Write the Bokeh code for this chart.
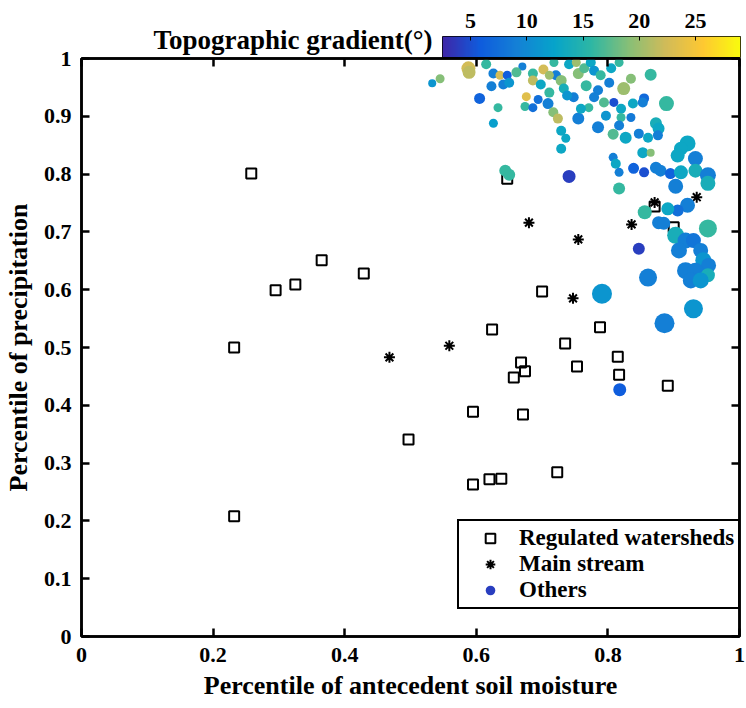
import numpy as np
from bokeh.plotting import figure
from bokeh.models import (Range1d, LinearAxis, FixedTicker, Legend, LegendItem,
                          LinearColorMapper, ColumnDataSource)
from bokeh.layouts import column
from bokeh.embed import file_html
from bokeh.resources import INLINE

FONT = "Liberation Serif"

# ---------------- data ----------------
x_ticks = [0, 0.2, 0.4, 0.6, 0.8, 1]
x_tick_labels = ["0", "0.2", "0.4", "0.6", "0.8", "1"]
y_ticks = [0, 0.1, 0.2, 0.3, 0.4, 0.5, 0.6, 0.7, 0.8, 0.9, 1]
y_tick_labels = ["0", "0.1", "0.2", "0.3", "0.4", "0.5", "0.6", "0.7", "0.8", "0.9", "1"]
cb_ticks = [5, 10, 15, 20, 25]
cb_title = "Topographic gradient(°)"
gradient_low, gradient_high = 2.5, 29.0

reg_x = [0.258, 0.232, 0.232, 0.295, 0.325, 0.365, 0.429, 0.497, 0.595, 0.595,
         0.620, 0.638, 0.624, 0.668, 0.674, 0.657, 0.671, 0.700, 0.723, 0.735,
         0.753, 0.788, 0.815, 0.817, 0.891, 0.647, 0.871, 0.900]
reg_y = [0.801, 0.500, 0.208, 0.599, 0.609, 0.651, 0.628, 0.341, 0.389, 0.263,
         0.272, 0.273, 0.531, 0.474, 0.459, 0.448, 0.384, 0.597, 0.284, 0.507,
         0.467, 0.535, 0.484, 0.453, 0.434, 0.792, 0.744, 0.708]

main_x = [0.468, 0.559, 0.747, 0.755, 0.680, 0.836, 0.871, 0.935]
main_y = [0.483, 0.503, 0.585, 0.687, 0.716, 0.713, 0.751, 0.760]

oth_x = [0.533, 0.545, 0.588, 0.589, 0.615, 0.626, 0.636, 0.647, 0.641, 0.650,
         0.623, 0.605, 0.633, 0.626, 0.670, 0.686, 0.702, 0.686, 0.676, 0.674,
         0.686, 0.694, 0.709, 0.711, 0.718, 0.721, 0.729, 0.741, 0.755, 0.748,
         0.733, 0.717, 0.724, 0.729, 0.755, 0.736, 0.729, 0.741, 0.644, 0.650,
         0.764, 0.774, 0.779, 0.805, 0.817, 0.824, 0.835, 0.802, 0.785, 0.809,
         0.794, 0.779, 0.771, 0.820, 0.838, 0.855, 0.853, 0.865, 0.889, 0.835,
         0.820, 0.817, 0.785, 0.808, 0.827, 0.847, 0.861, 0.873, 0.877, 0.876,
         0.921, 0.911, 0.906, 0.933, 0.853, 0.865, 0.808, 0.812, 0.817, 0.839,
         0.855, 0.873, 0.880, 0.895, 0.911, 0.933, 0.952, 0.952, 0.817, 0.903,
         0.921, 0.906, 0.891, 0.856, 0.877, 0.885, 0.952, 0.903, 0.918, 0.930,
         0.908, 0.941, 0.847, 0.945, 0.953, 0.918, 0.933, 0.952, 0.926, 0.941,
         0.861, 0.791, 0.886, 0.930, 0.818, 0.661, 0.698, 0.767, 0.752, 0.789,
         0.711, 0.738, 0.759, 0.797]
oth_y = [0.957, 0.965, 0.983, 0.976, 0.990, 0.974, 0.971, 0.971, 0.955, 0.958,
         0.952, 0.931, 0.915, 0.888, 0.986, 0.974, 0.981, 0.962, 0.934, 0.917,
         0.915, 0.929, 0.922, 0.941, 0.993, 0.971, 0.962, 0.990, 0.974, 0.933,
         0.948, 0.907, 0.896, 0.875, 0.896, 0.862, 0.844, 0.796, 0.806, 0.799,
         0.983, 0.993, 0.979, 0.983, 0.993, 0.948, 0.965, 0.958, 0.945, 0.924,
         0.924, 0.933, 0.915, 0.913, 0.922, 0.931, 0.924, 0.972, 0.922, 0.898,
         0.898, 0.884, 0.881, 0.869, 0.863, 0.870, 0.863, 0.888, 0.879, 0.867,
         0.853, 0.844, 0.832, 0.827, 0.837, 0.837, 0.829, 0.818, 0.803, 0.810,
         0.803, 0.811, 0.806, 0.801, 0.803, 0.806, 0.798, 0.784, 0.775, 0.779,
         0.746, 0.737, 0.740, 0.734, 0.716, 0.715, 0.706, 0.694, 0.685, 0.685,
         0.668, 0.668, 0.671, 0.651, 0.642, 0.633, 0.633, 0.625, 0.616, 0.616,
         0.621, 0.593, 0.542, 0.567, 0.427, 0.976, 0.955, 0.953, 0.993, 0.971,
         0.971, 0.936, 0.913, 0.901]
# topographic gradient (degrees)
oth_g = [11, 19, 22.5, 21.5, 16, 9, 22.5, 6, 9, 11,
         9, 6.5, 16, 12, 9, 16, 22.5, 21.5, 23.5, 16,
         7.5, 7.5, 9, 16, 16, 9, 19, 13, 19, 9,
         14, 19, 21.5, 13, 9, 13, 13, 4, 16, 16,
         17, 13, 11, 13, 16, 20, 19, 9, 9, 5,
         17, 9, 16, 13, 13, 7, 9, 16, 16, 8.5,
         16, 9, 9, 17, 13, 9, 13, 14, 13, 9,
         13, 13, 13, 9, 13, 19, 9, 13, 9, 6.5,
         5, 9, 9, 6.5, 13, 14, 9, 14, 16, 9,
         9, 7.5, 13, 16, 9, 9, 16, 14, 9, 8,
         9, 9, 4, 11, 9, 9, 9, 14, 9, 11,
         9, 11, 9, 11, 6, 17, 13, 16, 20, 16,
         20, 11, 13, 11]
# relative magnitude (marker scale)
oth_m = [4, 4.5, 7, 6.5, 5, 5, 4.5, 4.5, 5, 5,
         5, 5.5, 4.5, 4.5, 4, 5, 5, 5, 4.5, 4.5,
         4.5, 4.5, 5.5, 5, 4.5, 5, 5.5, 5, 5.5, 5,
         5, 5, 5, 5, 6, 4.5, 5, 6.5, 6, 6,
         5, 5, 5, 5, 4.5, 6.5, 5, 5, 5, 4.5,
         5, 5, 4.5, 5, 5, 5, 5, 6, 7.5, 4.5,
         4.5, 5, 6, 5.5, 6, 5, 5, 6, 6, 5,
         8, 7, 7, 7.5, 5.5, 4, 4.5, 5, 4.5, 5.5,
         5, 6, 6, 5.5, 7, 7, 8, 7.5, 6, 7.5,
         7.5, 6, 6.5, 7, 6.5, 6.5, 9, 8.5, 8, 7.5,
         8, 7.5, 6, 8, 7.5, 8.5, 8, 7, 8, 8,
         9, 10, 10, 9.5, 6.5, 5, 5, 5.5, 4.5, 5,
         4.5, 5, 5, 5]

# ---------------- colormap (parula-like) ----------------
stops = ["#3E26A8", "#0F5CDD", "#1481D6", "#06A4CA", "#2EB7A4",
         "#87BF77", "#D1BB59", "#FEC832", "#F9FB0E"]


def _interp_palette(hexes, n=256):
    rgb = np.array([[int(h[i:i + 2], 16) for i in (1, 3, 5)] for h in hexes], float)
    pos = np.linspace(0, 1, len(hexes))
    t = np.linspace(0, 1, n)
    out = np.stack([np.interp(t, pos, rgb[:, k]) for k in range(3)], axis=1)
    return ["#%02x%02x%02x" % tuple(int(round(v)) for v in row) for row in out]


palette = _interp_palette(stops)
mapper = LinearColorMapper(palette=palette, low=gradient_low, high=gradient_high)

# ---------------- main figure ----------------
p = figure(width=746, height=662, x_range=Range1d(0, 1), y_range=Range1d(0, 1),
           output_backend="svg", toolbar_location=None,
           min_border_left=79, min_border_right=7, min_border_top=12, min_border_bottom=72)
p.frame_align = False
p.margin = (-12, 0, 0, 0)
p.border_fill_color = None
p.grid.visible = False
p.outline_line_color = "black"
p.outline_line_width = 2.5
p.background_fill_color = "white"


def style_axis(ax, ticks, labels=None):
    ax.ticker = FixedTicker(ticks=ticks)
    ax.major_tick_in = 8
    ax.major_tick_out = 0
    ax.minor_tick_line_color = None
    ax.axis_line_width = 2.5
    ax.major_tick_line_width = 2.5
    ax.major_tick_line_color = "black"
    ax.axis_line_color = "black"
    if labels is not None:
        ax.major_label_overrides = {t: l for t, l in zip(ticks, labels)}
        ax.major_label_text_font = FONT
        ax.major_label_text_font_style = "bold"
        ax.major_label_text_font_size = "22px"
        ax.major_label_text_color = "black"
        ax.axis_label_text_font = FONT
        ax.axis_label_text_font_style = "bold"
        ax.axis_label_text_font_size = "26px"
        ax.axis_label_text_color = "black"
    else:
        ax.major_label_text_color = None
        ax.major_label_text_font_size = "1px"
        ax.major_label_standoff = 0


style_axis(p.xaxis[0], x_ticks, x_tick_labels)
style_axis(p.yaxis[0], y_ticks, y_tick_labels)
p.xaxis[0].axis_label = "Percentile of antecedent soil moisture"
p.yaxis[0].axis_label = "Percentile of precipitation"
p.xaxis[0].major_label_standoff = 11
p.yaxis[0].major_label_standoff = 10
p.xaxis[0].axis_label_standoff = 6
p.yaxis[0].axis_label_standoff = 8

top_ax = LinearAxis()
style_axis(top_ax, x_ticks)
p.add_layout(top_ax, "above")
right_ax = LinearAxis()
style_axis(right_ax, y_ticks)
p.add_layout(right_ax, "right")

r_sq = p.scatter(reg_x, reg_y, marker="square", size=10, fill_color=None,
                 line_color="black", line_width=2)
r_st = p.scatter(main_x, main_y, marker="asterisk", size=11, line_color="black",
                 line_width=2)
src = ColumnDataSource(dict(x=oth_x, y=oth_y, g=oth_g, s=[2 * m for m in oth_m]))
r_ci = p.scatter("x", "y", source=src, marker="circle", size="s",
                 fill_color={"field": "g", "transform": mapper}, line_color=None)

legend = Legend(items=[LegendItem(label="Regulated watersheds", renderers=[r_sq]),
                       LegendItem(label="Main stream", renderers=[r_st]),
                       LegendItem(label="Others", renderers=[r_ci], index=37)],
                location=(376, 27))
legend.border_line_color = "black"
legend.border_line_alpha = 1
legend.border_line_width = 2
legend.background_fill_alpha = 1
legend.label_text_font = FONT
legend.label_text_font_style = "bold"
legend.label_text_font_size = "23px"
legend.label_text_color = "black"
legend.glyph_width = 54
legend.glyph_height = 24
legend.label_standoff = 2
legend.padding = 4
legend.spacing = 0
legend.margin = 0
p.add_layout(legend)

# ---------------- colour bar figure ----------------
cb = figure(width=746, height=58, x_range=Range1d(gradient_low, gradient_high),
            y_range=Range1d(0, 1), output_backend="svg", toolbar_location=None,
            x_axis_location="above", y_axis_location=None,
            min_border_left=442, min_border_right=6, min_border_top=36, min_border_bottom=1)
cb.frame_align = False
cb.grid.visible = False
cb.outline_line_color = "black"
cb.outline_line_width = 1
grad = np.linspace(gradient_low, gradient_high, 512).reshape(1, -1)
cb.image(image=[grad], x=gradient_low, y=0, dw=gradient_high - gradient_low, dh=1,
         color_mapper=mapper)
ax = cb.xaxis[0]
ax.ticker = FixedTicker(ticks=cb_ticks)
ax.major_tick_in = 4
ax.major_tick_out = 0
ax.minor_tick_line_color = None
ax.axis_line_color = None
ax.major_tick_line_color = "black"
ax.major_label_text_font = FONT
ax.major_label_text_font_style = "bold"
ax.major_label_text_font_size = "22px"
ax.major_label_text_color = "black"
ax.major_label_standoff = 9

title_ax = LinearAxis(ticker=FixedTicker(ticks=[0.5]),
                      major_label_overrides={0.5: cb_title})
title_ax.major_tick_line_color = None
title_ax.minor_tick_line_color = None
title_ax.axis_line_color = None
title_ax.major_label_standoff = 4
title_ax.major_label_text_font = FONT
title_ax.major_label_text_font_style = "bold"
title_ax.major_label_text_font_size = "27px"
title_ax.major_label_text_color = "black"
cb.add_layout(title_ax, "left")

layout = column(cb, p, spacing=0)
open("out.html", "w").write(file_html(layout, INLINE))
